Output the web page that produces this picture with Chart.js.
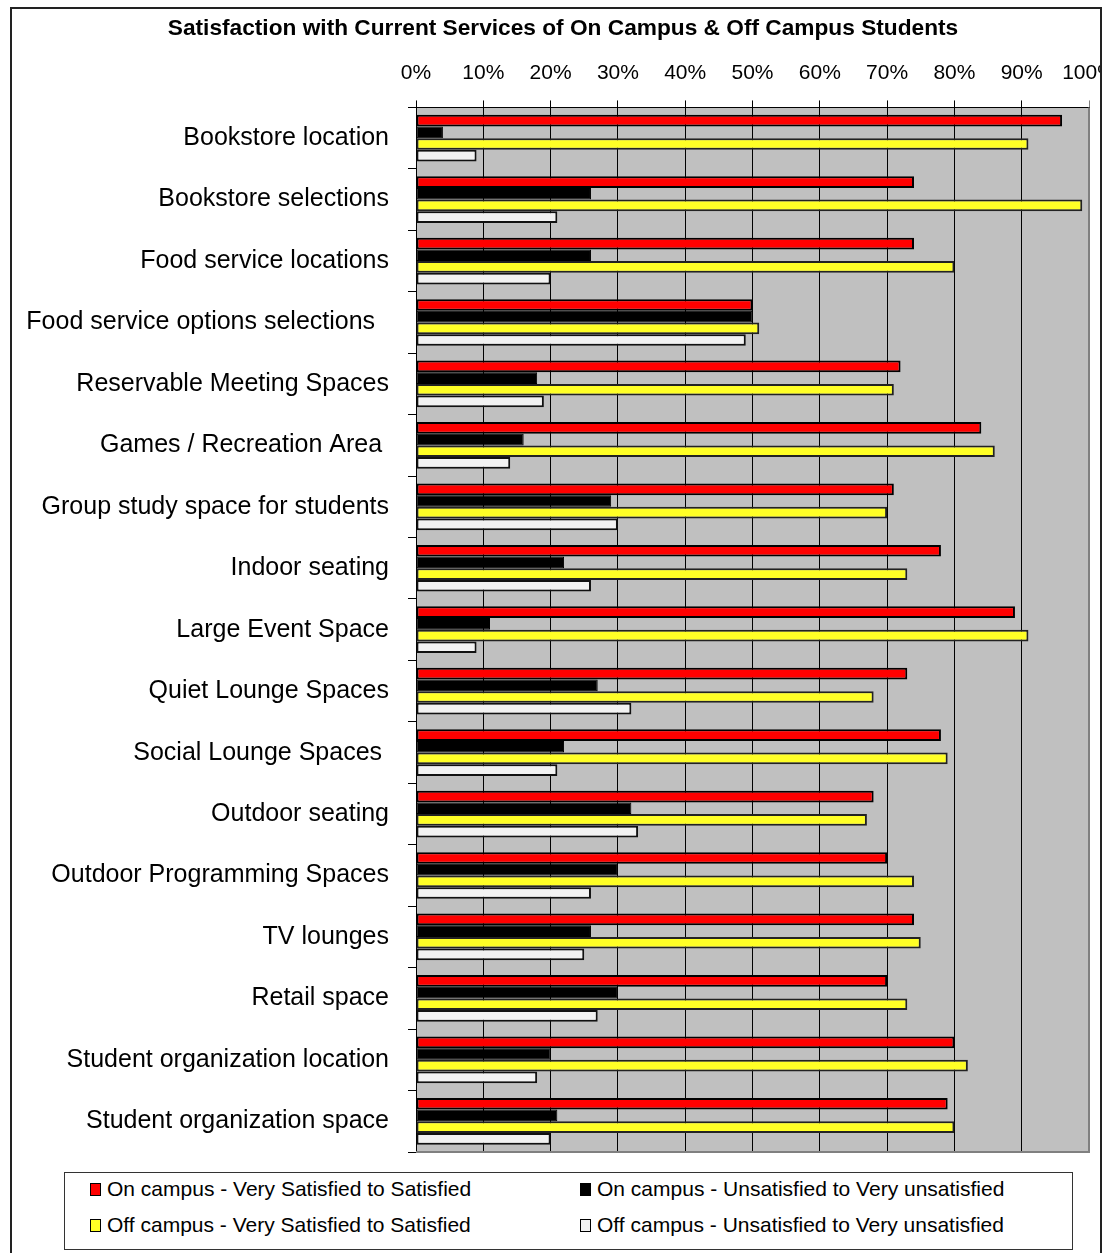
<!DOCTYPE html>
<html>
<head>
<meta charset="utf-8">
<script src="https://cdn.jsdelivr.net/npm/chart.js@4.4.1/dist/chart.umd.min.js"></script>
<style>
  html, body { margin: 0; padding: 0; background: #fff; width: 1104px; height: 1253px; overflow: hidden; }
  #wrap { position: absolute; left: 0; top: 0; width: 1101px; height: 1165px; overflow: hidden; }
  #frame { position: absolute; left: 10px; top: 7px; width: 1088px; height: 1300px;
           border: 2px solid #222; border-bottom: none; pointer-events: none; }
  #legend { position: absolute; left: 64px; top: 1172px; width: 1007px; height: 76px;
            border: 1px solid #333; font-family: 'Liberation Sans', Arial, sans-serif;
            font-size: 21px; color: #000; }
  .item { position: absolute; display: flex; align-items: center; white-space: nowrap; height: 24px; }
  .sw { width: 9px; height: 11px; border: 1px solid #000; margin-right: 6px; }
</style>
</head>
<body>
<div id="wrap"><canvas id="chart" width="1126" height="1165"></canvas></div>
<div id="legend"></div>
<div id="frame"></div>
<script>
// Survey items (top to bottom)
const categories = [
  'Bookstore location',
  'Bookstore selections',
  'Food service locations',
  'Food service options selections  ',
  'Reservable Meeting Spaces',
  'Games / Recreation Area ',
  'Group study space for students',
  'Indoor seating',
  'Large Event Space',
  'Quiet Lounge Spaces',
  'Social Lounge Spaces ',
  'Outdoor seating',
  'Outdoor Programming Spaces',
  'TV lounges',
  'Retail space',
  'Student organization location',
  'Student organization space'
];

// Percent of respondents per group
const onCampusSatisfied    = [96, 74, 74, 50, 72, 84, 71, 78, 89, 73, 78, 68, 70, 74, 70, 80, 79];
const onCampusUnsatisfied  = [ 4, 26, 26, 50, 18, 16, 29, 22, 11, 27, 22, 32, 30, 26, 30, 20, 21];
const offCampusSatisfied   = [91, 99, 80, 51, 71, 86, 70, 73, 91, 68, 79, 67, 74, 75, 73, 82, 80];
const offCampusUnsatisfied = [ 9, 21, 20, 49, 19, 14, 30, 26,  9, 32, 21, 33, 26, 25, 27, 18, 20];

const seriesNames = [
  'On campus - Very Satisfied to Satisfied',
  'On campus - Unsatisfied to Very unsatisfied',
  'Off campus - Very Satisfied to Satisfied',
  'Off campus - Unsatisfied to Very unsatisfied'
];

const chartTitle = 'Satisfaction with Current Services of On Campus & Off Campus Students';

Chart.defaults.font.family = "'Liberation Sans', Arial, Helvetica, sans-serif";
Chart.defaults.color = '#000';

// Grey plot area plus its darker bottom/right edges
const plotFrame = {
  id: 'plotFrame',
  beforeDraw(chart) {
    const { ctx, chartArea: a } = chart;
    ctx.save();
    ctx.fillStyle = '#C0C0C0';
    ctx.fillRect(a.left, a.top, a.right - a.left, a.bottom - a.top);
    ctx.restore();
  },
  afterDraw(chart) {
    const { ctx, chartArea: a } = chart;
    ctx.save();
    ctx.strokeStyle = '#808080';
    ctx.lineWidth = 2;
    ctx.beginPath();
    ctx.moveTo(a.left, a.bottom);
    ctx.lineTo(a.right, a.bottom);
    ctx.lineTo(a.right, a.top);
    ctx.stroke();
    ctx.restore();
  }
};

const chart = new Chart(document.getElementById('chart'), {
  type: 'bar',
  data: {
    labels: categories,
    datasets: [
      { label: seriesNames[0], data: onCampusSatisfied,    backgroundColor: '#FF0000', borderColor: '#000', borderWidth: 2 },
      { label: seriesNames[1], data: onCampusUnsatisfied,  backgroundColor: '#000000', borderColor: '#000', borderWidth: 1 },
      { label: seriesNames[2], data: offCampusSatisfied,   backgroundColor: '#FFFF26', borderColor: '#222', borderWidth: 2 },
      { label: seriesNames[3], data: offCampusUnsatisfied, backgroundColor: '#F2F2F2', borderColor: '#111', borderWidth: 2 }
    ]
  },
  options: {
    indexAxis: 'y',
    responsive: false,
    maintainAspectRatio: false,
    animation: false,
    layout: { padding: { top: 15, left: 0, right: 0, bottom: 13 } },
    datasets: { bar: { categoryPercentage: 0.76, barPercentage: 1.0, borderSkipped: false } },
    plugins: {
      legend: { display: false },
      tooltip: { enabled: false },
      title: {
        display: true,
        text: chartTitle,
        color: '#000',
        font: { size: 22.7, weight: 'bold' },
        padding: { top: 0, bottom: 3 }
      }
    },
    scales: {
      x: {
        position: 'top',
        min: 0,
        max: 100,
        ticks: { stepSize: 10, callback: v => v + '%', color: '#000', font: { size: 21 }, padding: 15, maxRotation: 0, autoSkip: false },
        grid: {
          color: c => (c.tick && c.tick.value === 100) ? '#808080' : '#000',
          lineWidth: 1,
          tickLength: 7,
          drawTicks: true
        },
        border: { display: true, color: '#000', width: 1 },
        afterFit: s => { s.paddingLeft = 0; s.paddingRight = 0; }
      },
      y: {
        ticks: { color: '#000', font: { size: 25 }, padding: 19, autoSkip: false },
        grid: { drawOnChartArea: false, drawTicks: true, tickLength: 8, color: '#000', offset: true },
        border: { display: true, color: '#000', width: 1 },
        afterFit: s => { s.width = 416; s.paddingTop = 0; s.paddingBottom = 0; }
      },
      // empty right-hand margin axis, keeps the plot edge at the frame's inner side
      yMargin: {
        type: 'category',
        position: 'right',
        display: true,
        ticks: { display: false },
        grid: { display: false },
        border: { display: false },
        afterFit: s => { s.width = 37; s.paddingTop = 0; s.paddingBottom = 0; }
      }
    }
  },
  plugins: [plotFrame]
});

// Legend box in two columns, built from the chart's datasets
const legendEl = document.getElementById('legend');
const slots = [ [25, 4], [515, 4], [25, 40], [515, 40] ];
chart.data.datasets.forEach((ds, i) => {
  const item = document.createElement('div');
  item.className = 'item';
  item.style.left = slots[i][0] + 'px';
  item.style.top = slots[i][1] + 'px';
  const sw = document.createElement('span');
  sw.className = 'sw';
  sw.style.background = ds.backgroundColor;
  const txt = document.createElement('span');
  txt.textContent = ds.label;
  item.appendChild(sw);
  item.appendChild(txt);
  legendEl.appendChild(item);
});
</script>
</body>
</html>
